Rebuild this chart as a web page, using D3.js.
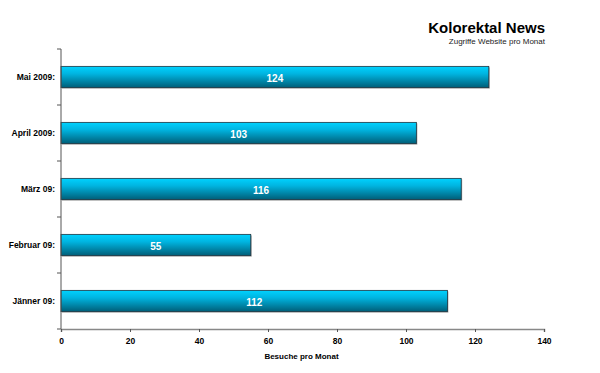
<!DOCTYPE html>
<html>
<head>
<meta charset="utf-8">
<script src="https://cdn.jsdelivr.net/npm/d3@7"></script>
<style>
	body{margin:0;background:#fff;}
	text{font-family:"Liberation Sans", Arial, sans-serif;}
</style>
</head>
<body>
<div id="chart"></div>
<script>
// data (top to bottom)
let months = ["Mai 2009:", "April 2009:", "März 09:", "Februar 09:", "Jänner 09:"],
	visits = [124, 103, 116, 55, 112],
	xTicks = [0, 20, 40, 60, 80, 100, 120, 140];

let title = "Kolorektal News",
	subTitle = "Zugriffe Website pro Monat",
	xTitle = "Besuche pro Monat";

let w = 600, h = 373,
	margin = {top:49, right:56, bottom:44, left:61};

let svg = d3.select("#chart").append("svg").attr("width", w).attr("height", h);

let defs = svg.append("defs");
let grad = defs.append("linearGradient").attr("id", "barGrad")
	.attr("x1", 0).attr("y1", 0).attr("x2", 0).attr("y2", 1);
grad.append("stop").attr("offset", "0%").attr("stop-color", "#00d2ff");
grad.append("stop").attr("offset", "35%").attr("stop-color", "#00b4e0");
grad.append("stop").attr("offset", "100%").attr("stop-color", "#005e78");

let scaleX = d3.scaleLinear().domain([0, 140]).range([margin.left, w - margin.right]);
let scaleY = d3.scaleBand().domain(months).range([margin.top, h - margin.bottom]).paddingInner(0.62).paddingOuter(0.31);

// title
svg.append("text").attr("x", 545).attr("y", 33).attr("text-anchor", "end")
	.style("font-size", "15px").style("font-weight", "bold").text(title);
svg.append("text").attr("x", 545).attr("y", 44).attr("text-anchor", "end")
	.style("font-size", "8px").style("fill", "#222").text(subTitle);

// bars
let g = svg.append("g");
months.forEach(function(m, i){
	let y = scaleY(m), bh = scaleY.bandwidth(), x0 = scaleX(0), x1 = scaleX(visits[i]);
	// shadow
	g.append("rect").attr("x", x0 + 1).attr("y", y + 1).attr("width", x1 - x0).attr("height", bh)
		.style("fill", "#a8a8a8");
	g.append("rect").attr("x", x0).attr("y", y).attr("width", x1 - x0).attr("height", bh)
		.style("fill", "url(#barGrad)").style("stroke", "#1d3440").style("stroke-width", 0.8);
	g.append("text").attr("x", (x0 + x1)/2).attr("y", y + bh/2 + 1)
		.attr("text-anchor", "middle").attr("dominant-baseline", "central")
		.style("font-size", "10px").style("font-weight", "bold").style("fill", "#fff")
		.text(visits[i]);
});

// y axis
let yAxisG = svg.append("g");
yAxisG.append("line").attr("x1", scaleX(0)).attr("x2", scaleX(0))
	.attr("y1", margin.top).attr("y2", h - margin.bottom).style("stroke", "#555");
let step = scaleY.step();
for(let i = 0; i <= months.length; i++){
	let ty = margin.top + (h - margin.bottom - margin.top) * i / months.length;
	yAxisG.append("line").attr("x1", scaleX(0) - 4).attr("x2", scaleX(0))
		.attr("y1", ty).attr("y2", ty).style("stroke", "#555");
}
months.forEach(function(m){
	yAxisG.append("text").attr("x", 55).attr("y", scaleY(m) + scaleY.bandwidth()/2)
		.attr("text-anchor", "end").attr("dominant-baseline", "central")
		.style("font-size", "8.5px").style("font-weight", "bold").text(m);
});

// x axis
let xAxis = d3.axisBottom(scaleX).tickValues(xTicks).tickSize(3).tickPadding(6);
let xAxisG = svg.append("g").attr("transform", "translate(0," + (h - margin.bottom) + ")").call(xAxis);
xAxisG.select(".domain").style("stroke", "#888").style("stroke-width", 1.5);
xAxisG.selectAll(".tick line").style("stroke", "#555");
xAxisG.selectAll(".tick text").style("font-size", "8.5px").style("font-weight", "bold")
	.style("font-family", "Liberation Sans, Arial, sans-serif").style("fill", "#000");

svg.append("text").attr("x", (scaleX(0) + scaleX(140))/2 - 1).attr("y", 359)
	.attr("text-anchor", "middle").style("font-size", "8px").style("font-weight", "bold").text(xTitle);
</script>
</body>
</html>
